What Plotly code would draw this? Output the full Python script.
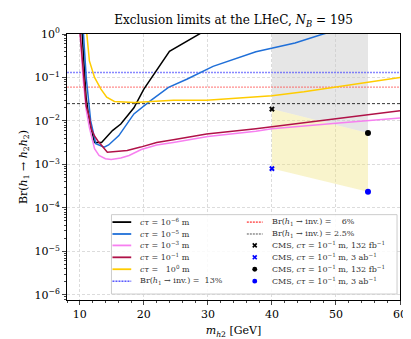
import plotly.graph_objects as go

# --- data ---
x_lim = [8, 60]

m_1e6 = [10.3, 10.98, 11.5, 12.3, 13.4, 15.1, 16.4, 18.45, 20.0, 22.0, 24.0, 30.0]
br_1e6 = [1.5, 0.035, 0.010, 0.0032, 0.0032, 0.0060, 0.0085, 0.020, 0.054, 0.15, 0.40, 1.3]

m_1e5 = [10.5, 11.0, 11.7, 12.5, 13.8, 14.5, 16.1, 18.45, 21.0, 23.85, 26.7, 30.8, 37.5, 40.6, 43.6, 48.0, 50.0]
br_1e5 = [1.5, 0.10, 0.010, 0.0030, 0.0025, 0.0028, 0.0046, 0.0145, 0.029, 0.059, 0.091, 0.18, 0.39, 0.50, 0.62, 1.0, 1.2]

m_1e3 = [10.0, 10.5, 11.0, 11.5, 12.3, 13.0, 14.0, 14.9, 16.4, 17.7, 19.6, 22.0, 24.6, 30.0, 37.5, 40.0, 50.0, 60.0]
br_1e3 = [1.3, 0.10, 0.018, 0.007, 0.0023, 0.0016, 0.00135, 0.0013, 0.0014, 0.0016, 0.0022, 0.0028, 0.0032,
          0.0044, 0.0058, 0.0066, 0.0088, 0.0117]

m_1e1 = [10.0, 10.5, 11.0, 11.5, 11.8, 12.3, 12.8, 14.3, 17.4, 19.5, 22.0, 24.6, 29.8, 37.5, 40.0, 50.0, 60.0]
br_1e1 = [1.3, 0.13, 0.022, 0.012, 0.0065, 0.0045, 0.0035, 0.0019, 0.0021, 0.0025, 0.0032, 0.0037, 0.0050,
          0.0066, 0.0073, 0.0112, 0.0172]

m_1e0 = [11.0, 11.5, 12.3, 13.3, 14.2, 15.4, 18.5, 24.6, 29.8, 37.5, 40.0, 45.0, 50.0, 55.5, 60.0]
br_1e0 = [1.4, 0.24, 0.10, 0.054, 0.035, 0.028, 0.0265, 0.030, 0.030, 0.035, 0.038, 0.047, 0.060, 0.080, 0.10]

br_inv = [0.13, 0.06, 0.025]

cms_m = [40, 55]
cms_132fb = [0.0187, 0.0053]
cms_3ab = [0.0008, 0.000234]
band_top = 1.0

SERIF = "DejaVu Serif"
blue = "#1f6fd8"
pink = "#f77ff0"
crimson = "#b01248"
gold = "#ffcc00"
GRID = dict(showgrid=True, gridcolor="#dcdcdc", griddash="3px,2px", gridwidth=0.7, zeroline=False)

fig = go.Figure()

# shaded CMS regions
fig.add_trace(go.Scatter(x=[cms_m[0], cms_m[1], cms_m[1], cms_m[0]],
                         y=[cms_132fb[0], cms_132fb[1], band_top, band_top],
                         fill="toself", fillcolor="rgba(200,200,200,0.45)", mode="none", hoverinfo="skip"))
fig.add_trace(go.Scatter(x=[cms_m[0], cms_m[1], cms_m[1], cms_m[0]],
                         y=[cms_132fb[0], cms_132fb[1], cms_3ab[1], cms_3ab[0]],
                         fill="toself", fillcolor="rgba(238,225,120,0.38)", mode="none", hoverinfo="skip"))

# Br(h1 -> inv.) reference lines
fig.add_trace(go.Scatter(x=x_lim, y=[br_inv[0]] * 2, mode="lines",
                         line=dict(color="rgba(70,70,255,0.65)", width=1.4, dash="2px,1px")))
fig.add_trace(go.Scatter(x=x_lim, y=[br_inv[1]] * 2, mode="lines",
                         line=dict(color="rgba(255,80,80,0.65)", width=1.4, dash="2px,1px")))
fig.add_trace(go.Scatter(x=x_lim, y=[br_inv[2]] * 2, mode="lines",
                         line=dict(color="black", width=0.8, dash="3px,2px")))

# ctau curves
for m, br, c in [(m_1e6, br_1e6, "black"), (m_1e5, br_1e5, blue), (m_1e3, br_1e3, pink),
                 (m_1e1, br_1e1, crimson), (m_1e0, br_1e0, gold)]:
    fig.add_trace(go.Scatter(x=m, y=br, mode="lines", line=dict(color=c, width=1.5)))

# CMS points
fig.add_trace(go.Scatter(x=[cms_m[0]], y=[cms_132fb[0]], mode="markers",
                         marker=dict(symbol="x", size=5, color="black")))
fig.add_trace(go.Scatter(x=[cms_m[0]], y=[cms_3ab[0]], mode="markers",
                         marker=dict(symbol="x", size=5, color="blue")))
fig.add_trace(go.Scatter(x=[cms_m[1]], y=[cms_132fb[1]], mode="markers",
                         marker=dict(symbol="circle", size=6, color="black")))
fig.add_trace(go.Scatter(x=[cms_m[1]], y=[cms_3ab[1]], mode="markers",
                         marker=dict(symbol="circle", size=6, color="blue")))

# --- hand-made two-column legend (pixel layout -> paper coords) ---
L, R, T, B = 59, 396, 26, 294
def px(v): return (v - L) / (R - L)
def py(v): return (B - v) / (B - T)

shapes = [dict(type="rect", xref="paper", yref="paper", x0=px(104), x1=px(393), y0=py(288), y1=py(208),
               line=dict(color="#cccccc", width=1), fillcolor="rgba(255,255,255,0.85)", layer="above")]
annots = []
rows = [215.5, 227.5, 239, 251, 263, 275]
col1 = [("black", "solid", 1.8, "<i>cτ</i> = 10<sup>−6</sup> m"),
        (blue, "solid", 1.8, "<i>cτ</i> = 10<sup>−5</sup> m"),
        (pink, "solid", 1.8, "<i>cτ</i> = 10<sup>−3</sup> m"),
        (crimson, "solid", 1.8, "<i>cτ</i> = 10<sup>−1</sup> m"),
        (gold, "solid", 1.8, "<i>cτ</i> =   10<sup>0</sup> m"),
        ("blue", "2px,1px", 1, "Br(<i>h</i><sub>1</sub> → inv.) =  13%")]
for r, (c, d, w, t) in zip(rows, col1):
    shapes.append(dict(type="line", xref="paper", yref="paper", x0=px(105), x1=px(124), y0=py(r), y1=py(r),
                       line=dict(color=c, width=w, dash=d), layer="above"))
    annots.append(dict(xref="paper", yref="paper", x=px(131), y=py(r), text=t, showarrow=False,
                       xanchor="left", yanchor="middle", font=dict(family=SERIF, size=8, color="#333")))
col2 = [("line", "red", "Br(<i>h</i><sub>1</sub> → inv.) =    6%"),
        ("line", "#555555", "Br(<i>h</i><sub>1</sub> → inv.) = 2.5%"),
        ("x", "black", "CMS, <i>cτ</i> = 10<sup>−1</sup> m, 132 fb<sup>−1</sup>"),
        ("x", "blue", "CMS, <i>cτ</i> = 10<sup>−1</sup> m, 3 ab<sup>−1</sup>"),
        ("o", "black", "CMS, <i>cτ</i> = 10<sup>−1</sup> m, 132 fb<sup>−1</sup>"),
        ("o", "blue", "CMS, <i>cτ</i> = 10<sup>−1</sup> m, 3 ab<sup>−1</sup>")]
for r, (k, c, t) in zip(rows, col2):
    if k == "line":
        shapes.append(dict(type="line", xref="paper", yref="paper", x0=px(241), x1=px(257), y0=py(r), y1=py(r),
                           line=dict(color=c, width=1, dash="2px,1px"), layer="above"))
    elif k == "x":
        for s in (1, -1):
            shapes.append(dict(type="line", xref="paper", yref="paper", x0=px(247), x1=px(251),
                               y0=py(r - 2 * s), y1=py(r + 2 * s), line=dict(color=c, width=1.6), layer="above"))
    else:
        shapes.append(dict(type="circle", xref="paper", yref="paper", x0=px(246.5), x1=px(251.5),
                           y0=py(r + 2.5), y1=py(r - 2.5), fillcolor=c, line=dict(color=c, width=0), layer="above"))
    annots.append(dict(xref="paper", yref="paper", x=px(264), y=py(r), text=t, showarrow=False,
                       xanchor="left", yanchor="middle", font=dict(family=SERIF, size=8, color="#333")))

fig.update_layout(
    width=411, height=339, autosize=False,
    margin=dict(l=L, r=411 - R, t=T, b=339 - B),
    plot_bgcolor="white", paper_bgcolor="white", showlegend=False,
    font=dict(family=SERIF, size=11, color="black"),
    title=dict(text="Exclusion limits at the LHeC, <i>N<sub>B</sub></i> = 195", x=0.5, xref="paper",
               y=1 - 12 / 339, yref="container", yanchor="middle", font=dict(family=SERIF, size=12)),
    shapes=shapes, annotations=annots,
    xaxis=dict(range=x_lim, tickvals=[10, 20, 30, 40, 50, 60], ticks="outside", ticklen=4,
               minor=dict(dtick=2, ticks="outside", ticklen=2, showgrid=False),
               showline=True, mirror=True, linecolor="black", linewidth=1, **GRID,
               title=dict(text="<i>m</i><sub><i>h</i>2</sub> [GeV]", standoff=6, font=dict(size=11))),
    yaxis=dict(type="log", range=[-6.12, 0],
               tickvals=[1e-6, 1e-5, 1e-4, 1e-3, 1e-2, 1e-1, 1],
               ticktext=["10<sup>−6</sup>", "10<sup>−5</sup>", "10<sup>−4</sup>", "10<sup>−3</sup>",
                         "10<sup>−2</sup>", "10<sup>−1</sup>", "10<sup>0</sup>"],
               ticks="outside", ticklen=4,
               minor=dict(ticks="outside", ticklen=2, dtick="D1", showgrid=False),
               showline=True, mirror=True, linecolor="black", linewidth=1, **GRID,
               title=dict(text="Br(<i>h</i><sub>1</sub> → <i>h</i><sub>2</sub><i>h</i><sub>2</sub>)",
                          standoff=4, font=dict(size=11))),
)

fig.write_html("out.html")
